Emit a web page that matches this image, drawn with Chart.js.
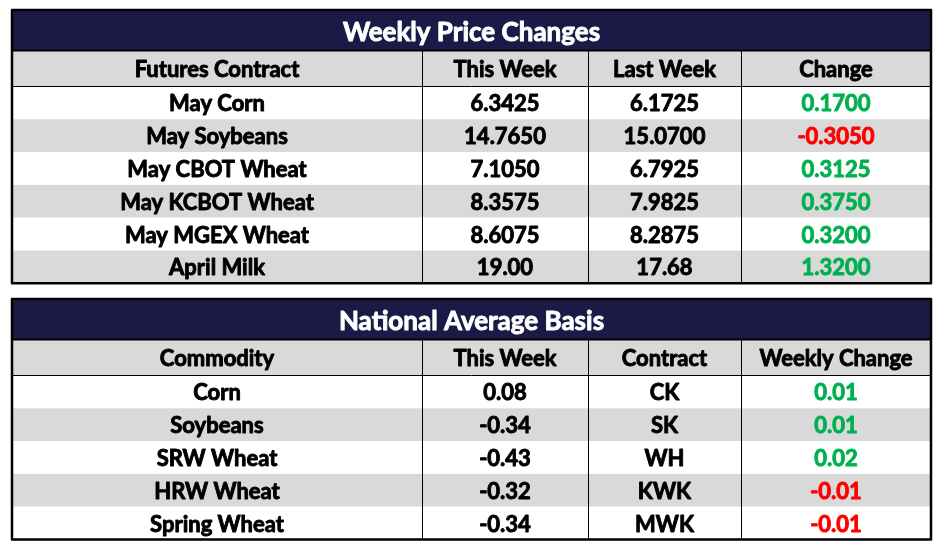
<!DOCTYPE html>
<html>
<head>
<meta charset="utf-8">
<title>Weekly Price Changes</title>
<script src="https://cdn.jsdelivr.net/npm/chart.js@4.4.1/dist/chart.umd.min.js"></script>
<style>
  body { margin: 0; background: #fff; }
  #wrap { width: 946px; height: 554px; }
</style>
</head>
<body>
<div id="wrap"><canvas id="grid" width="946" height="554"></canvas></div>
<script>
// table 1 - futures
const priceTitle = "Weekly Price Changes";
const priceHeaders = ["Futures Contract", "This Week", "Last Week", "Change"];
const contracts = ["May Corn", "May Soybeans", "May CBOT Wheat", "May KCBOT Wheat", "May MGEX Wheat", "April Milk"];
const thisWeek = [6.3425, 14.7650, 7.1050, 8.3575, 8.6075, 19.00];
const lastWeek = [6.1725, 15.0700, 6.7925, 7.9825, 8.2875, 17.68];
const priceChange = [0.1700, -0.3050, 0.3125, 0.3750, 0.3200, 1.3200];
const priceDecimals = [4, 4, 4, 4, 4, 2];

// table 2 - basis
const basisTitle = "National Average Basis";
const basisHeaders = ["Commodity", "This Week", "Contract", "Weekly Change"];
const commodities = ["Corn", "Soybeans", "SRW Wheat", "HRW Wheat", "Spring Wheat"];
const basisThisWeek = [0.08, -0.34, -0.43, -0.32, -0.34];
const basisContracts = ["CK", "SK", "WH", "KWK", "MWK"];
const basisChange = [0.01, 0.01, 0.02, -0.01, -0.01];

// layout (scale units = px)
const colEdges = [12, 422, 588, 741, 931];
const tableTops = [10, 299];
const titleH = 40.5, headerH = 36, rowH = 32.8;
const NAVY = "#1b1a47", GRAY = "#d9d9d9", GREEN = "#00b050", RED = "#ff0000";
const FONT = "Lato, 'Open Sans', sans-serif";

function fmt(v, d) { return v.toFixed(d); }

const tables = [
  {
    title: priceTitle,
    headers: priceHeaders,
    rows: contracts.map((c, i) => [c, fmt(thisWeek[i], priceDecimals[i]), fmt(lastWeek[i], priceDecimals[i]), fmt(priceChange[i], 4)]),
    signs: priceChange
  },
  {
    title: basisTitle,
    headers: basisHeaders,
    rows: commodities.map((c, i) => [c, fmt(basisThisWeek[i], 2), basisContracts[i], fmt(basisChange[i], 2)]),
    signs: basisChange
  }
];

// fill + thin stroke so the text looks as heavy as the original
function text(ctx, s, x, yMid, size, color) {
  ctx.font = "bold " + size + "px " + FONT;
  ctx.fillStyle = color;
  ctx.strokeStyle = color;
  ctx.lineWidth = 0.9;
  ctx.lineJoin = "round";
  ctx.textAlign = "center";
  ctx.textBaseline = "alphabetic";
  const y = yMid + size * 0.72 / 2;
  ctx.fillText(s, x, y);
  ctx.strokeText(s, x, y);
}

const tablePlugin = {
  id: "tablePlugin",
  afterDraw(chart) {
    const ctx = chart.ctx;
    const xs = chart.scales.x, ys = chart.scales.y;
    const X = v => xs.getPixelForValue(v);
    const Y = v => ys.getPixelForValue(v);
    const left = X(colEdges[0]), right = X(colEdges[colEdges.length - 1]);

    tables.forEach((t, ti) => {
      const top = tableTops[ti];
      const headTop = top + titleH;
      const bodyTop = headTop + headerH;
      const bottom = bodyTop + rowH * t.rows.length;
      ctx.save();

      // title band
      ctx.fillStyle = NAVY;
      ctx.fillRect(left, Y(top), right - left, Y(headTop) - Y(top));
      text(ctx, t.title, (left + right) / 2, Y(top + titleH / 2) + 1, 26, "#fff");

      // header band
      ctx.fillStyle = GRAY;
      ctx.fillRect(left, Y(headTop), right - left, Y(bodyTop) - Y(headTop));
      t.headers.forEach((h, ci) => {
        const cx = (X(colEdges[ci]) + X(colEdges[ci + 1])) / 2;
        text(ctx, h, cx, Y(headTop + headerH / 2) + 1, 22, "#000");
      });

      // body rows
      t.rows.forEach((row, ri) => {
        const r0 = bodyTop + rowH * ri;
        ctx.fillStyle = ri % 2 ? GRAY : "#fff";
        ctx.fillRect(left, Y(r0), right - left, Y(r0 + rowH) - Y(r0));
        row.forEach((cell, ci) => {
          const cx = (X(colEdges[ci]) + X(colEdges[ci + 1])) / 2;
          let col = "#000";
          if (ci === 3) col = t.signs[ri] < 0 ? RED : GREEN;
          text(ctx, cell, cx, Y(r0 + rowH / 2) + 0.5, 22, col);
        });
      });

      // lines
      ctx.strokeStyle = "#000";
      ctx.lineWidth = 1;
      ctx.beginPath();
      ctx.moveTo(left, Y(bodyTop)); ctx.lineTo(right, Y(bodyTop));
      for (let ci = 1; ci < colEdges.length - 1; ci++) {
        const x = Math.round(X(colEdges[ci])) + 0.5;
        ctx.moveTo(x, Y(headTop)); ctx.lineTo(x, Y(bottom));
      }
      ctx.stroke();
      ctx.lineWidth = 2;
      ctx.beginPath();
      ctx.moveTo(left, Y(headTop)); ctx.lineTo(right, Y(headTop));
      ctx.stroke();
      ctx.lineWidth = 2.5;
      ctx.strokeRect(left, Y(top), right - left, Y(bottom) - Y(top));
      ctx.restore();
    });
  }
};

new Chart(document.getElementById("grid"), {
  type: "scatter",
  data: { datasets: [{ data: [] }] },
  options: {
    responsive: false,
    animation: false,
    layout: { padding: 0 },
    plugins: { legend: { display: false }, tooltip: { enabled: false } },
    scales: {
      x: { type: "linear", min: 0, max: 946, display: false },
      y: { type: "linear", min: 0, max: 554, reverse: true, display: false }
    }
  },
  plugins: [tablePlugin]
});
</script>
</body>
</html>
